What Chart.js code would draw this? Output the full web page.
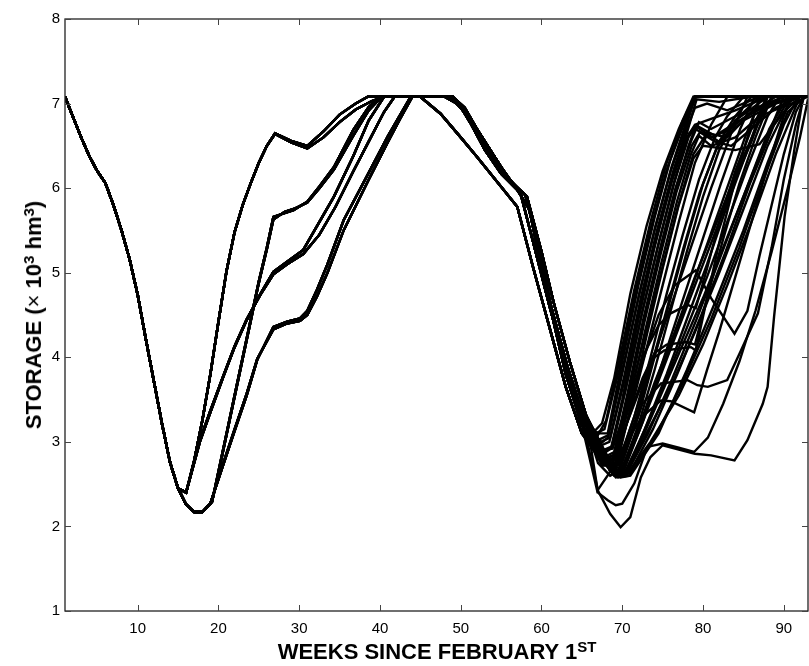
<!DOCTYPE html>
<html>
<head>
<meta charset="utf-8">
<script src="https://cdn.jsdelivr.net/npm/chart.js@4/dist/chart.umd.min.js"></script>
<style>
    body { margin: 0; background: #fff; }
    #wrap { position: relative; width: 809px; height: 666px; font-family: "Liberation Sans", Arial, sans-serif; color: #000; }
    #graficoArmazenamento { position: absolute; left: 0; top: 0; }
    .titulo { position: absolute; font-weight: bold; font-size: 22px; line-height: 22px; white-space: nowrap; }
    .titulo sup { font-size: 15px; line-height: 0; vertical-align: 0.45em; }
    .titulo .vezes { font-weight: normal; }
    #tituloX { left: 437px; top: 641px; transform: translateX(-50%); }
    #tituloY { left: 34px; top: 315px; transform: translate(-50%, -50%) rotate(-90deg); }
</style>
</head>
<body>
<div id="wrap">
    <canvas id="graficoArmazenamento" width="809" height="666"></canvas>
    <div class="titulo" id="tituloX">WEEKS SINCE FEBRUARY 1<sup>ST</sup></div>
    <div class="titulo" id="tituloY">STORAGE (<span class="vezes">&times;</span> 10<sup>3</sup> hm<sup>3</sup>)</div>
</div>
<script>
// axis ticks
const weekTicks = [10, 20, 30, 40, 50, 60, 70, 80, 90];
const storageTicks = [1, 2, 3, 4, 5, 6, 7, 8];
const lastWeek = 93;
const fullStorage = 7.08;

// [week, storage] - first drawdown, same for every trace
const firstDrawdown = [
    [1, 7.08], [2, 6.84], [3, 6.6], [4, 6.38], [5, 6.2], [6, 6.06], [7, 5.8], [8, 5.5],
    [9, 5.16], [10, 4.74], [11, 4.22], [12, 3.72], [13, 3.22], [14, 2.76], [15, 2.45]
];

// first refill, from the trough up to full storage
const firstRefill = [
    [[16, 2.4], [17, 2.78], [18, 3.25], [19, 3.8], [20, 4.42], [21, 5.02], [22, 5.48], [23, 5.8], [24, 6.06], [25, 6.3], [26, 6.5], [27, 6.65], [29, 6.56], [31, 6.5], [33, 6.67], [35, 6.87], [37, 7.0], [38.5, 7.08]],
    [[16, 2.4], [17, 2.78], [18, 3.25], [19, 3.8], [20, 4.42], [21, 5.02], [22, 5.48], [23, 5.8], [24, 6.06], [25, 6.3], [26, 6.5], [27, 6.64], [29, 6.54], [31, 6.47], [33, 6.6], [35, 6.78], [37, 6.93], [39, 7.03], [40.5, 7.08]],
    [[16, 2.4], [17.7, 3.0], [19, 3.35], [20.6, 3.77], [22, 4.12], [23.5, 4.44], [25.2, 4.75], [26.8, 5.01], [28.5, 5.13], [30.5, 5.27], [32.2, 5.55], [34.3, 5.9], [36.7, 6.38], [38.6, 6.8], [40.5, 7.08]],
    [[16, 2.4], [17.7, 3.02], [19, 3.37], [20.6, 3.78], [22, 4.13], [23.5, 4.45], [25.2, 4.74], [26.8, 4.98], [28.5, 5.1], [30.5, 5.22], [32.5, 5.45], [34.5, 5.78], [36.7, 6.2], [38.6, 6.55], [40.5, 6.9], [41.8, 7.08]],
    [[16, 2.26], [17, 2.17], [18, 2.17], [19.2, 2.29], [20, 2.65], [21, 3.1], [22, 3.55], [23, 4.0], [24, 4.45], [25, 4.9], [26, 5.3], [26.8, 5.66], [28, 5.7], [29.3, 5.74], [31, 5.84], [32.5, 6.02], [34.3, 6.25], [36.7, 6.69], [38.6, 6.96], [40, 7.08]],
    [[16, 2.26], [17, 2.17], [18, 2.17], [19.2, 2.29], [20, 2.63], [21, 3.08], [22, 3.53], [23, 3.98], [24, 4.43], [25, 4.88], [26, 5.28], [26.8, 5.63], [28.2, 5.72], [29.5, 5.76], [31, 5.83], [32.5, 6.0], [34.3, 6.22], [36.7, 6.62], [38.6, 6.92], [40.2, 7.08]],
    [[16, 2.26], [17, 2.17], [18, 2.17], [19, 2.27], [20.5, 2.7], [21.9, 3.1], [23.5, 3.55], [24.8, 3.97], [26.8, 4.36], [28.5, 4.42], [30.1, 4.46], [31, 4.55], [32.2, 4.8], [33.5, 5.1], [35.5, 5.62], [38.6, 6.18], [41, 6.62], [43.8, 7.08]],
    [[16, 2.26], [17, 2.17], [18, 2.17], [19, 2.27], [20.5, 2.72], [21.9, 3.12], [23.5, 3.57], [24.8, 3.98], [26.8, 4.33], [28.5, 4.4], [30.1, 4.43], [31, 4.5], [32.2, 4.72], [33.5, 5.0], [35.5, 5.5], [38.6, 6.1], [41, 6.55], [42.5, 6.82], [44, 7.08]]
];

// second drawdown, from full storage down to week ~65
const secondDrawdown = [
    [[45, 7.08], [47.5, 6.88], [50, 6.6], [52, 6.37], [55.3, 5.98], [57, 5.78], [59, 5.05], [61, 4.35], [63, 3.65], [65, 3.1]],
    [[48.5, 7.08], [50, 6.96], [51.2, 6.77], [53, 6.45], [55, 6.17], [57.4, 5.94], [59, 5.35], [61, 4.6], [63, 3.9], [65, 3.3]],
    [[49, 7.08], [50.5, 6.95], [52, 6.7], [54, 6.4], [56, 6.1], [58.2, 5.9], [60, 5.25], [61.5, 4.65], [63.5, 3.95], [65.5, 3.32]],
    [[48, 7.08], [49.5, 7.0], [51, 6.85], [53, 6.55], [55, 6.25], [57, 5.98], [58.5, 5.75], [60, 5.05], [61.3, 4.5], [63, 3.8], [65, 3.2]],
    [[49, 7.08], [51, 6.82], [53, 6.5], [55, 6.22], [57, 6.0], [58, 5.92], [59.5, 5.35], [61.2, 4.6], [63.2, 3.9], [65.2, 3.3]]
];

// second refill - fast ones, full again around week 79
const fastRefill = [
    [[66.5, 3.12], [67.5, 3.22], [69, 3.75], [71, 4.75], [73, 5.55], [75, 6.2], [77, 6.7], [78.8, 7.08]],
    [[66.8, 3.05], [68, 3.25], [69.5, 3.9], [71.5, 4.8], [73.5, 5.6], [75.5, 6.3], [77.5, 6.8], [79, 7.08]],
    [[67, 2.95], [68.2, 3.05], [70, 3.85], [72, 4.7], [74, 5.5], [76, 6.2], [78, 6.75], [79, 7.08]],
    [[67.5, 2.85], [68.6, 2.92], [70, 3.5], [72, 4.45], [74, 5.3], [76, 6.05], [78, 6.65], [79.2, 7.05], [82, 7.02], [86, 7.08]],
    [[67.2, 2.95], [68.4, 3.0], [70.2, 3.7], [72.2, 4.6], [74.2, 5.4], [76.2, 6.1], [78, 6.6], [79, 6.75], [81, 6.82], [84, 6.92], [88, 7.08]],
    [[67.8, 2.8], [69, 2.85], [70.5, 3.45], [72.5, 4.35], [74.5, 5.2], [76.5, 5.95], [78.2, 6.5], [79, 6.7], [81, 6.6], [83, 6.68], [86, 6.9], [90, 7.08]],
    [[66.9, 3.1], [68.2, 3.1], [70, 3.95], [72, 4.85], [74, 5.65], [76, 6.35], [78, 6.9], [79, 7.08]],
    [[67.6, 2.9], [68.8, 2.95], [70.5, 3.65], [72.5, 4.55], [74.5, 5.35], [76.5, 6.1], [78.3, 6.65], [79.3, 6.72], [82, 6.55], [85, 6.8], [89, 7.0], [92, 7.08]],
    [[68, 2.75], [69.2, 2.8], [70.8, 3.45], [72.8, 4.3], [74.8, 5.1], [76.8, 5.85], [78.5, 6.4], [79.5, 6.62], [81, 6.5], [84, 6.6], [87, 6.85], [93, 7.08]],
    [[67.3, 3.0], [68.5, 3.05], [70.3, 3.8], [72.3, 4.7], [74.3, 5.5], [76.3, 6.2], [78, 6.7], [79, 6.95], [80.5, 7.0], [83, 6.92], [87, 7.08]],
    [[68.2, 2.7], [69.4, 2.75], [71, 3.4], [73, 4.25], [75, 5.05], [77, 5.8], [78.8, 6.35], [80, 6.5], [84, 6.45], [87, 6.52], [90, 6.9], [92, 7.08]],
    [[67.8, 2.82], [69, 2.88], [70.6, 3.55], [72.6, 4.45], [74.6, 5.25], [76.6, 6.0], [78.5, 6.55], [79.5, 6.78], [81, 6.7], [84, 6.85], [90, 7.08]],
    [[67, 3.02], [68.3, 3.08], [70.1, 3.85], [72.1, 4.75], [74.1, 5.55], [76.1, 6.25], [78, 6.8], [79.1, 7.08]],
    [[67.6, 2.88], [68.7, 2.94], [70.4, 3.62], [72.4, 4.5], [74.4, 5.3], [76.4, 6.05], [78.2, 6.6], [79.2, 6.74], [81.5, 6.62], [84.5, 6.8], [88, 6.98], [91, 7.08]],
    [[66.7, 3.1], [67.8, 3.15], [69.6, 3.85], [71.6, 4.75], [73.6, 5.55], [75.6, 6.25], [77.6, 6.75], [78.9, 7.08]],
    [[67.9, 2.8], [69.1, 2.84], [70.7, 3.5], [72.7, 4.4], [74.7, 5.2], [76.7, 5.95], [78.6, 6.5], [79.6, 6.66], [81.5, 6.55], [83.5, 6.5], [86, 6.7], [89, 6.95], [92, 7.08]]
];

// medium refill, full between weeks 83 and 89
const midRefill = [
    [[68, 2.75], [69.5, 2.75], [71.5, 3.3], [73.5, 4.0], [75.5, 4.75], [77.5, 5.45], [79.5, 6.1], [81.5, 6.6], [83, 6.85], [85, 7.08]],
    [[68.5, 2.68], [69.8, 2.7], [72, 3.3], [74, 4.0], [76, 4.7], [78, 5.4], [80, 6.05], [82, 6.55], [84, 6.85], [86, 7.08]],
    [[68, 2.8], [69.2, 2.8], [71, 3.35], [73, 4.1], [75, 4.85], [77, 5.6], [79, 6.3], [81, 6.75], [83, 7.08]],
    [[68.5, 2.65], [70, 2.68], [72, 3.2], [74, 3.85], [76, 4.55], [78, 5.25], [80, 5.9], [82, 6.45], [84, 6.8], [87, 7.08]],
    [[67.5, 2.9], [68.8, 2.92], [70.8, 3.5], [72.8, 4.25], [74.8, 5.0], [76.8, 5.75], [78.8, 6.4], [80.5, 6.65], [83, 6.6], [86, 6.9], [89, 7.08]],
    [[68.4, 2.7], [69.6, 2.72], [71.6, 3.25], [73.6, 3.9], [75.6, 4.6], [77.6, 5.3], [79.6, 5.95], [81.6, 6.45], [84, 6.8], [88, 7.08]]
];

// slow refill, full only near the end
const slowRefill = [
    [[68.5, 2.65], [70, 2.65], [72, 3.1], [74, 3.6], [76, 4.1], [78, 4.6], [80, 5.1], [82, 5.6], [84, 6.1], [86, 6.55], [88, 7.08]],
    [[69, 2.6], [70.2, 2.62], [72.5, 3.05], [75, 3.6], [77.5, 4.15], [80, 4.7], [82.5, 5.3], [85, 5.9], [87.5, 6.5], [90, 7.08]],
    [[68.8, 2.62], [70, 2.64], [72, 3.15], [74, 3.7], [76.5, 4.3], [79, 4.95], [81.5, 5.55], [84, 6.15], [86.5, 6.7], [88.5, 7.08]],
    [[69.2, 2.58], [70.4, 2.6], [73, 3.1], [76, 3.65], [79, 4.3], [82, 5.0], [85, 5.75], [88, 6.5], [91, 7.08]],
    [[69, 2.62], [70.3, 2.63], [72.8, 3.15], [75.5, 3.75], [78, 4.35], [80.5, 4.95], [83, 5.6], [85.5, 6.25], [88, 6.85], [89.5, 7.08]],
    [[69.4, 2.6], [70.6, 2.62], [73.5, 3.0], [77, 3.55], [80, 4.15], [83, 4.85], [86, 5.6], [89, 6.4], [92, 7.08]],
    [[68.2, 2.72], [69.5, 2.74], [71.5, 3.3], [73.5, 3.9], [76, 4.6], [78.5, 5.3], [81, 6.0], [83.5, 6.65], [85.5, 7.08]],
    [[68.6, 2.66], [69.9, 2.68], [72.2, 3.2], [74.8, 3.85], [77.4, 4.5], [80, 5.2], [82.6, 5.9], [85.2, 6.6], [87.2, 7.08]],
    [[69.2, 2.6], [70.5, 2.62], [73.2, 3.1], [76.2, 3.75], [79.2, 4.45], [82.2, 5.2], [85.2, 5.95], [88.2, 6.7], [90.5, 7.08]],
    [[69.5, 2.58], [70.8, 2.6], [74, 3.05], [77.5, 3.7], [81, 4.45], [84.5, 5.3], [87.5, 6.1], [90, 6.75], [91.8, 7.08]],
    [[69.3, 2.62], [70.6, 2.64], [73, 3.2], [75.5, 3.8], [78, 4.45], [80.5, 5.1], [83, 5.8], [85.5, 6.45], [87.8, 7.08]],
    [[69.6, 2.6], [70.9, 2.63], [73.8, 3.15], [76.8, 3.8], [79.8, 4.5], [82.8, 5.25], [85.8, 6.05], [88.8, 6.75], [90.8, 7.08]],
    [[68.9, 2.64], [70.2, 2.66], [72.6, 3.25], [75, 3.95], [77.4, 4.65], [79.8, 5.35], [82.2, 6.05], [84.6, 6.7], [86.4, 7.08]],
    [[69.8, 2.58], [71, 2.6], [74.5, 3.1], [78, 3.85], [81.5, 4.65], [85, 5.5], [88, 6.3], [90.5, 6.9], [92.6, 7.08]]
];

// dry years: deep trough and a long flat stretch before refilling
const lowRefill = [
    [[67, 2.42], [68.5, 2.15], [69.8, 1.99], [71, 2.11], [72.3, 2.58], [73.5, 2.82], [75, 2.96], [79, 2.86], [81, 2.84], [83.9, 2.78], [85.5, 3.02], [87.4, 3.45], [88, 3.65], [88.8, 4.48], [90.1, 5.66], [91.3, 6.45], [92.4, 7.08]],
    [[67, 2.4], [68.2, 2.31], [69.2, 2.25], [70, 2.27], [71.5, 2.51], [73.1, 2.94], [75, 2.98], [77, 2.93], [78.9, 2.88], [80.6, 3.05], [82.5, 3.45], [84.5, 3.95], [86.5, 4.55], [88.5, 5.25], [90.5, 6.0], [92, 6.6], [93, 7.05]],
    [[66.9, 2.42], [68.6, 2.66], [70.5, 3.0], [72.5, 3.3], [74.8, 3.49], [76, 3.48], [78.9, 3.35], [80.5, 3.85], [82, 4.3], [84, 4.95], [86, 5.6], [88, 6.25], [90, 6.85], [91, 7.08]],
    [[67, 2.75], [68.5, 2.6], [69.5, 2.65], [71, 3.05], [72.5, 3.45], [74.8, 3.69], [78.1, 3.73], [79.3, 3.67], [80.6, 3.65], [83, 3.73], [84.7, 4.08], [86.8, 4.52], [88.5, 5.3], [90, 6.1], [91.5, 6.75], [92.5, 7.08]],
    [[67.5, 2.75], [68.8, 2.75], [70.5, 3.2], [72.5, 3.7], [74, 4.0], [75.2, 4.08], [78.5, 4.12], [79.1, 4.08], [80.5, 4.7], [82, 5.35], [84, 6.1], [85.5, 6.6], [87, 7.08]],
    [[67.5, 2.72], [69, 2.72], [70.5, 3.2], [72.5, 3.75], [74, 4.05], [75.5, 4.15], [78, 4.18], [79, 4.15], [80.5, 4.7], [82.5, 5.4], [84.5, 6.05], [86.5, 6.6], [88.5, 7.08]],
    [[67.5, 2.8], [68.8, 2.8], [70.5, 3.35], [72.5, 4.0], [74.5, 4.38], [76, 4.52], [78.1, 4.62], [79.1, 4.58], [80.5, 5.05], [82, 5.6], [84, 6.2], [86, 6.7], [88, 7.08]],
    [[67.5, 2.72], [68.8, 2.74], [70.5, 3.3], [72.5, 3.95], [74.5, 4.5], [76.5, 4.85], [79.1, 5.03], [81, 4.7], [83.9, 4.28], [85.5, 4.55], [87, 5.2], [88.5, 5.8], [90, 6.4], [91.5, 6.9], [92.5, 7.08]]
];

const secondRefill = fastRefill.concat(midRefill, slowRefill, lowRefill);

// one trace per simulation: both years joined, held at full storage to the last week
function montarTraco(i) {
    let pontos = firstDrawdown
        .concat(firstRefill[i % firstRefill.length])
        .concat(secondDrawdown[i % secondDrawdown.length])
        .concat(secondRefill[i]);
    if (pontos[pontos.length - 1][0] < lastWeek) pontos.push([lastWeek, fullStorage]);
    return pontos.map(p => ({ x: p[0], y: p[1] }));
}

// box around the plot with tick marks pointing inward
const moldura = {
    id: 'moldura',
    afterDatasetsDraw(chart) {
        const { ctx, chartArea: a, scales } = chart;
        ctx.save();
        ctx.strokeStyle = '#222';
        ctx.lineWidth = 1.3;
        ctx.strokeRect(a.left, a.top, a.right - a.left, a.bottom - a.top);
        ctx.lineWidth = 1;
        ctx.strokeStyle = '#444';
        ctx.beginPath();
        for (let w of weekTicks) {
            let x = Math.round(scales.x.getPixelForValue(w)) + 0.5;
            ctx.moveTo(x, a.bottom); ctx.lineTo(x, a.bottom - 6);
            ctx.moveTo(x, a.top); ctx.lineTo(x, a.top + 6);
        }
        for (let s of storageTicks) {
            let y = Math.round(scales.y.getPixelForValue(s)) + 0.5;
            ctx.moveTo(a.left, y); ctx.lineTo(a.left + 6, y);
            ctx.moveTo(a.right, y); ctx.lineTo(a.right - 6, y);
        }
        ctx.stroke();
        ctx.restore();
    }
};

function getGraph() {
    const ctx = document.getElementById('graficoArmazenamento').getContext('2d');
    const fonteEixo = { family: '"Liberation Sans", Arial, sans-serif', size: 15 };

    let datasets = secondRefill.map((_, i) => ({
        data: montarTraco(i),
        borderColor: '#000',
        borderWidth: 2.4,
        pointRadius: 0,
        tension: 0,
        fill: false
    }));

    new Chart(ctx, {
        type: 'line',
        data: { datasets: datasets },
        options: {
            responsive: false,
            animation: false,
            events: [],
            layout: { padding: { top: 19, right: 1, left: 0, bottom: 0 } },
            plugins: { legend: { display: false }, tooltip: { enabled: false } },
            scales: {
                x: {
                    type: 'linear',
                    min: 1,
                    max: lastWeek,
                    grid: { display: false, drawTicks: false },
                    border: { display: false },
                    afterBuildTicks: s => { s.ticks = weekTicks.map(v => ({ value: v })); },
                    afterFit: s => { s.height = 55; },
                    ticks: { color: '#000', font: fonteEixo, padding: 9, maxRotation: 0, autoSkip: false }
                },
                y: {
                    type: 'linear',
                    min: 1,
                    max: 8,
                    grid: { display: false, drawTicks: false },
                    border: { display: false },
                    afterBuildTicks: s => { s.ticks = storageTicks.map(v => ({ value: v })); },
                    afterFit: s => { s.width = 65; },
                    ticks: { color: '#000', font: fonteEixo, padding: 5, autoSkip: false }
                }
            }
        },
        plugins: [moldura]
    });
}

getGraph();
</script>
</body>
</html>
